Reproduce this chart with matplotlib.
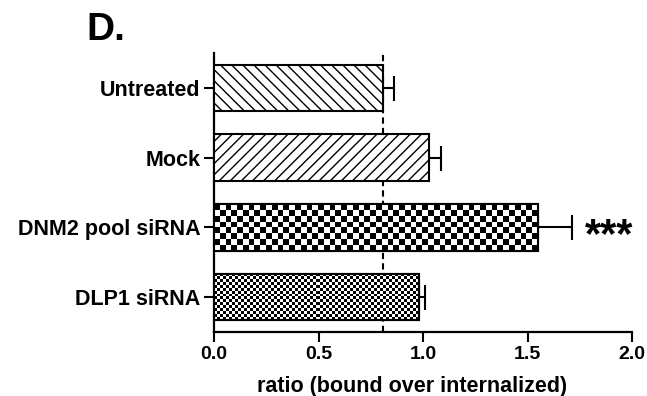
import numpy as np
import matplotlib
matplotlib.use("Agg")
import matplotlib.pyplot as plt

plt.rcParams["font.family"] = ["Liberation Sans", "DejaVu Sans"]
plt.rcParams["font.weight"] = "bold"
plt.rcParams["hatch.linewidth"] = 1.0

grupos = ["Untreated", "Mock", "DNM2 pool siRNA", "DLP1 siRNA"]
razao = [0.81, 1.03, 1.55, 0.98]
erro = [0.05, 0.055, 0.16, 0.027]
ref_untreated = razao[0]

fig = plt.figure(figsize=(6.47, 3.96), dpi=100)
ax = fig.add_axes([0.331, 0.162, 0.646, 0.704])

y = np.arange(len(grupos))
barras = ax.barh(y, razao, height=0.67, color="white", edgecolor="black",
                 linewidth=1.5, zorder=3)
barras[0].set_hatch("\\\\\\")
barras[1].set_hatch("///")

# xadrez das barras de siRNA (grosso para DNM2, fino para DLP1)
def xadrez(bar, tam_px):
    x0, y0 = bar.get_x(), bar.get_y()
    w, h = bar.get_width(), bar.get_height()
    p0 = ax.transData.transform((x0, y0))
    p1 = ax.transData.transform((x0 + w, y0 + h))
    nx = max(1, int(round(abs(p1[0] - p0[0]) / tam_px)))
    ny = max(1, int(round(abs(p1[1] - p0[1]) / tam_px)))
    grade = (np.add.outer(np.arange(ny), np.arange(nx)) % 2).astype(float)
    im = ax.imshow(grade, cmap="gray", extent=(x0, x0 + w, y0 + h, y0),
                   interpolation="nearest", aspect="auto", zorder=3.5)
    im.set_clip_path(bar)

ax.set_xlim(0, 2.0)
ax.set_ylim(3.5, -0.5)
xadrez(barras[2], 5.8)
xadrez(barras[3], 3.0)
# contorno por cima do xadrez
for b in barras[2:]:
    ax.add_patch(plt.Rectangle((b.get_x(), b.get_y()), b.get_width(), b.get_height(),
                               fill=False, edgecolor="black", linewidth=1.5, zorder=4))

ax.errorbar(razao, y, xerr=[np.zeros(len(erro)), erro], fmt="none", ecolor="black",
            elinewidth=1.5, capsize=9, capthick=1.5, zorder=2)

ax.axvline(ref_untreated, color="black", linestyle=(0, (3, 2)), linewidth=1.5, zorder=1)

ax.text(1.775, 2.13, "***", fontsize=30, fontweight="bold", va="center", ha="left")

ax.set_yticks(y)
ax.set_yticklabels(grupos, fontsize=15.5)
ax.set_xticks([0.0, 0.5, 1.0, 1.5, 2.0])
ax.set_xticklabels(["0.0", "0.5", "1.0", "1.5", "2.0"], fontsize=14)
ax.set_xlabel("ratio (bound over internalized)", fontsize=15.5, fontweight="bold")
ax.xaxis.set_label_coords(0.474, -0.16)
ax.tick_params(axis="both", direction="out", length=7, width=1.5, pad=3)
for lado in ["top", "right"]:
    ax.spines[lado].set_visible(False)
for lado in ["left", "bottom"]:
    ax.spines[lado].set_linewidth(1.6)

fig.text(0.133, 0.925, "D.", fontsize=28, fontweight="bold", ha="left", va="center")

fig.savefig("out.png", dpi=100)
